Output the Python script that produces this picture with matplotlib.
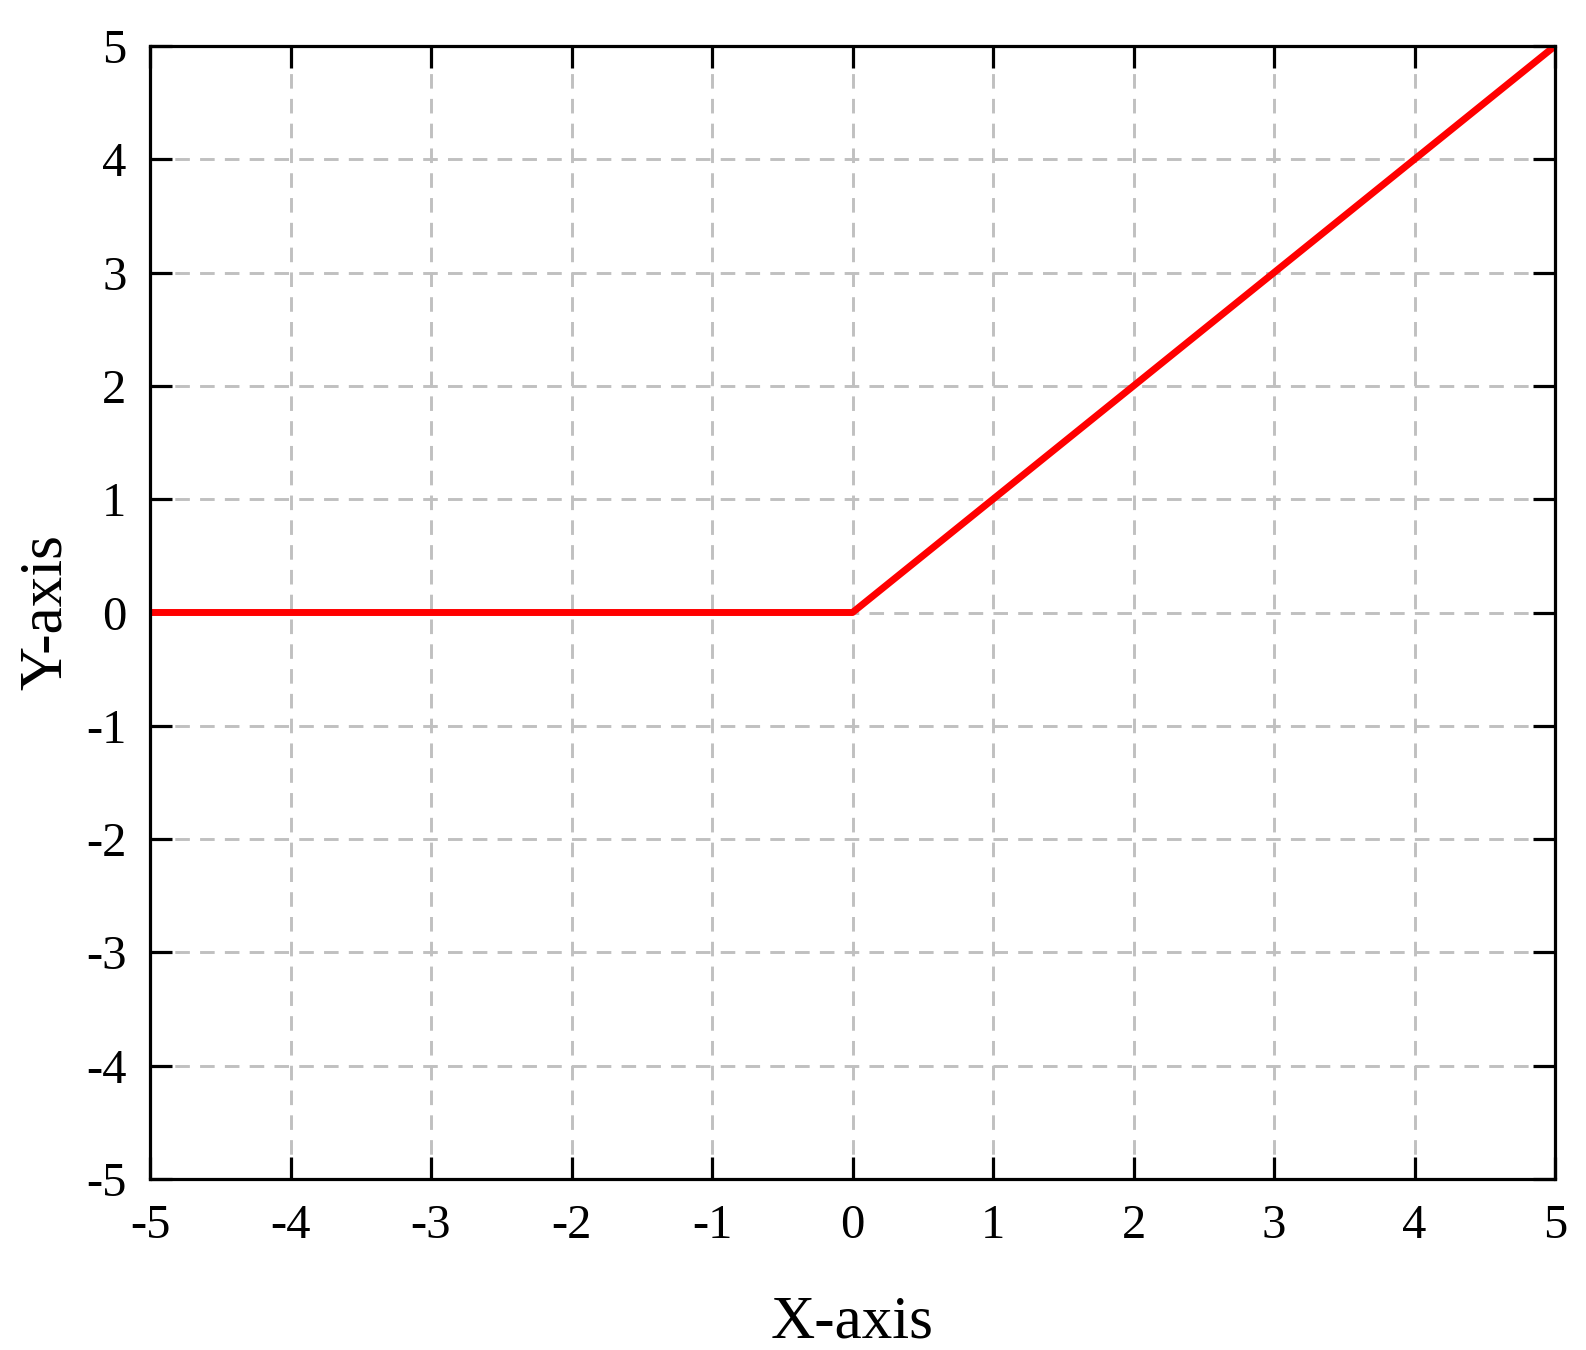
import matplotlib
matplotlib.use("Agg")
import matplotlib.pyplot as plt

x_vals = [-5, 0, 5]
y_vals = [0, 0, 5]
ticks = [-5, -4, -3, -2, -1, 0, 1, 2, 3, 4, 5]

plt.rcParams['font.family'] = ['Liberation Serif', 'DejaVu Serif']

fig = plt.figure(figsize=(15.86, 13.5), dpi=100)
ax = fig.add_axes([150/1586, 1 - 1179/1350, (1555-150)/1586, (1179-46)/1350])

ax.plot(x_vals, y_vals, color='#ff0000', linewidth=5.0, zorder=3, solid_capstyle='butt')

ax.set_xlim(-5, 5)
ax.set_ylim(-5, 5)
ax.set_xticks(ticks)
ax.set_yticks(ticks)
ax.set_xticklabels([str(t) for t in ticks])
ax.set_yticklabels([str(t) for t in ticks])

ax.grid(True, color='#c0c0c0', linestyle=(0, (5, 3.5)), linewidth=2.1)
ax.set_axisbelow(True)

for s in ax.spines.values():
    s.set_linewidth(2.3)
    s.set_zorder(4)

ax.tick_params(axis='both', which='major', direction='in', length=16, width=2.3,
               top=True, right=True, labelsize=35)
ax.tick_params(axis='x', pad=18)
ax.tick_params(axis='y', pad=17)

ax.set_xlabel('X-axis', fontsize=44)
ax.set_ylabel('Y-axis', fontsize=44)
ax.xaxis.set_label_coords(0.5, -0.102)
ax.yaxis.set_label_coords(-0.054, 0.5)

fig.savefig('out.png', dpi=100)
